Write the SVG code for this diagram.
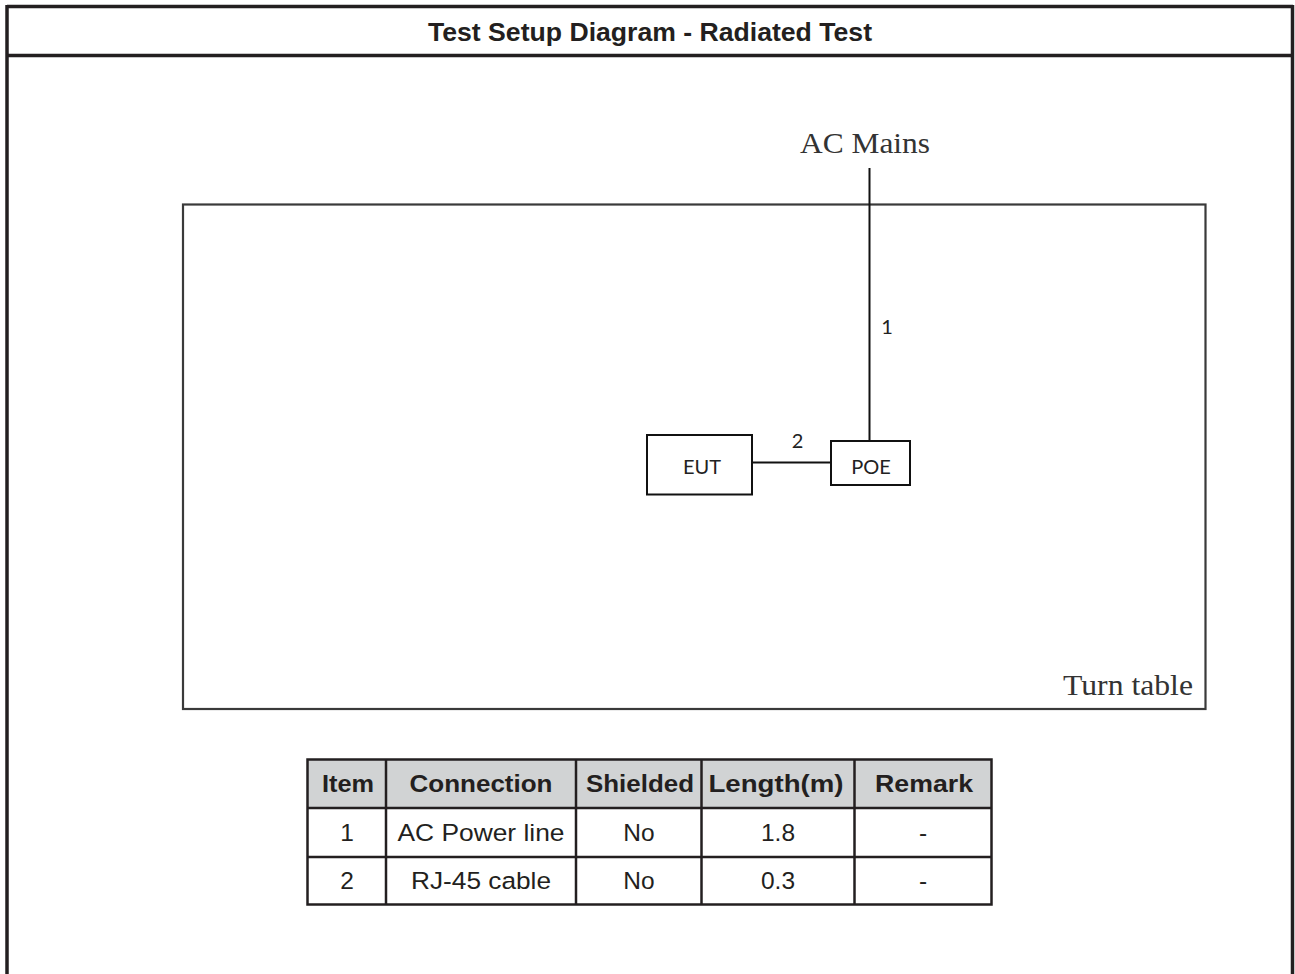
<svg xmlns="http://www.w3.org/2000/svg" width="1295" height="974" viewBox="0 0 1295 974">
<style>
.frame{fill:none;stroke:#231f20;stroke-width:3.5}
.title{font-family:"Liberation Sans",Arial,sans-serif;font-weight:bold;font-size:25px;fill:#231f20;text-anchor:middle}
.box{fill:#fff;stroke:#111;stroke-width:2}
.wire{stroke:#111;stroke-width:2;fill:none}
.table-rect{fill:none;stroke:#3a3a3a;stroke-width:2.2}
.small{font-family:Lato,"Open Sans",sans-serif;font-size:20px;fill:#222;text-anchor:middle}
.serif{font-family:"Liberation Serif","Times New Roman",serif;font-size:29px;fill:#333}
.grid{stroke:#231f20;stroke-width:2.5;fill:none}
.hdr{fill:#d1d3d4}
.th{font-family:"Liberation Sans",Arial,sans-serif;font-weight:bold;font-size:24.5px;fill:#231f20;text-anchor:middle}
.td{font-family:"Liberation Sans",Arial,sans-serif;font-size:24.5px;fill:#231f20;text-anchor:middle}
</style>
<rect width="1295" height="974" fill="#fff"/>
<g id="frame">
<line class="frame" x1="7" y1="6.5" x2="1293" y2="6.5"/>
<line class="frame" x1="7" y1="5" x2="7" y2="974"/>
<line class="frame" x1="1292.5" y1="5" x2="1292.5" y2="974"/>
<line class="frame" x1="7" y1="55.5" x2="1293" y2="55.5" stroke-width="3"/>
<text class="title" x="650" y="40.5" textLength="444" lengthAdjust="spacingAndGlyphs">Test Setup Diagram - Radiated Test</text>
</g>
<g id="turntable">
<rect class="table-rect" x="183" y="204.5" width="1022.5" height="504.5"/>
<text class="serif" x="1063" y="695" textLength="130" lengthAdjust="spacingAndGlyphs">Turn table</text>
</g>
<g id="acmains">
<text class="serif" x="800" y="153" textLength="130" lengthAdjust="spacingAndGlyphs">AC Mains</text>
</g>
<g id="connectors">
<line class="wire" x1="869.5" y1="168" x2="869.5" y2="441"/>
<line class="wire" x1="752" y1="462.5" x2="831" y2="462.5"/>
<text class="small" x="887" y="334">1</text>
<text class="small" x="797.5" y="448">2</text>
</g>
<g id="eut">
<rect class="box" x="647" y="435" width="105" height="59.5"/>
<text class="small" x="702" y="474">EUT</text>
</g>
<g id="poe">
<rect class="box" x="831" y="441" width="79" height="44"/>
<text class="small" x="871" y="474">POE</text>
</g>
<g id="table">
<rect class="hdr" x="307.5" y="759.5" width="684" height="48.5"/>
<rect class="grid" x="307.5" y="759.5" width="684" height="145"/>
<line class="grid" x1="307.5" y1="808" x2="991.5" y2="808"/>
<line class="grid" x1="307.5" y1="857" x2="991.5" y2="857"/>
<line class="grid" x1="386" y1="759.5" x2="386" y2="904.5"/>
<line class="grid" x1="576" y1="759.5" x2="576" y2="904.5"/>
<line class="grid" x1="701.5" y1="759.5" x2="701.5" y2="904.5"/>
<line class="grid" x1="854.5" y1="759.5" x2="854.5" y2="904.5"/>
<text class="th" x="348" y="792" textLength="52" lengthAdjust="spacingAndGlyphs">Item</text>
<text class="th" x="481" y="792" textLength="143" lengthAdjust="spacingAndGlyphs">Connection</text>
<text class="th" x="640" y="792" textLength="108" lengthAdjust="spacingAndGlyphs">Shielded</text>
<text class="th" x="776" y="792" textLength="135" lengthAdjust="spacingAndGlyphs">Length(m)</text>
<text class="th" x="924" y="792" textLength="98" lengthAdjust="spacingAndGlyphs">Remark</text>
<text class="td" x="347" y="841">1</text>
<text class="td" x="481" y="841" textLength="167" lengthAdjust="spacingAndGlyphs">AC Power line</text>
<text class="td" x="639" y="841">No</text>
<text class="td" x="778" y="841">1.8</text>
<text class="td" x="923" y="841">-</text>
<text class="td" x="347" y="889">2</text>
<text class="td" x="481" y="889" textLength="140" lengthAdjust="spacingAndGlyphs">RJ-45 cable</text>
<text class="td" x="639" y="889">No</text>
<text class="td" x="778" y="889">0.3</text>
<text class="td" x="923" y="889">-</text>
</g>
</svg>
